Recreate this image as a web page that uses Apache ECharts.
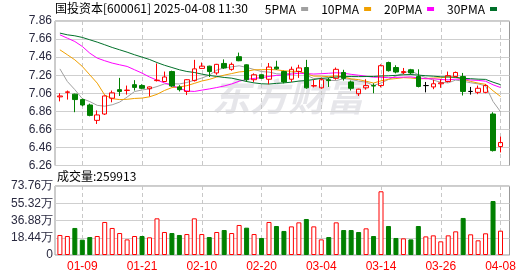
<!DOCTYPE html>
<html><head><meta charset="utf-8">
<script src="https://cdn.jsdelivr.net/npm/echarts@6/dist/echarts.min.js"></script>
<style>html,body{margin:0;padding:0;background:#fff}#c{width:530px;height:276px}</style>
</head><body><div id="c"></div>
<script>
const dates = ['01-06','01-07','01-08','01-09','01-10','01-13','01-14','01-15','01-16','01-17','01-20','01-21','01-22','01-23','01-24','01-27','02-05','02-06','02-07','02-10','02-11','02-12','02-13','02-14','02-17','02-18','02-19','02-20','02-21','02-24','02-25','02-26','02-27','02-28','03-03','03-04','03-05','03-06','03-07','03-10','03-11','03-12','03-13','03-14','03-17','03-18','03-19','03-20','03-21','03-24','03-25','03-26','03-27','03-28','03-31','04-01','04-02','04-03','04-07','04-08'];
const opens  = [7.02,7.07,7.05,6.99,6.93,6.76,6.83,7.005,7.10,7.09,7.155,7.145,7.11,7.20,7.19,7.30,7.13,7.08,7.20,7.335,7.36,7.285,7.39,7.325,7.465,7.375,7.21,7.265,7.215,7.35,7.30,7.215,7.30,7.345,7.14,7.12,7.21,7.225,7.29,7.185,7.055,7.12,7.145,7.145,7.40,7.345,7.29,7.32,7.245,7.145,7.13,7.165,7.19,7.245,7.245,7.08,7.07,7.07,6.83,6.47];
const closes = [7.03,7.075,6.99,6.93,6.815,6.82,7.03,7.065,7.08,7.095,7.125,7.115,7.13,7.205,7.24,7.14,7.10,7.21,7.33,7.36,7.30,7.38,7.34,7.38,7.42,7.21,7.265,7.225,7.35,7.33,7.185,7.325,7.34,7.12,7.145,7.21,7.20,7.325,7.225,7.115,7.105,7.145,7.14,7.365,7.31,7.295,7.30,7.285,7.135,7.145,7.165,7.175,7.255,7.29,7.08,7.08,7.115,7.145,6.425,6.515];
const lows   = [6.97,6.99,6.85,6.915,6.805,6.72,6.82,6.96,7.03,7.045,7.09,7.105,7.025,7.19,7.185,7.13,7.08,7.04,7.19,7.33,7.24,7.265,7.33,7.31,7.415,7.185,7.185,7.22,7.16,7.32,7.17,7.185,7.23,7.11,7.125,7.11,7.13,7.21,7.20,7.09,7.03,7.10,7.06,7.125,7.30,7.28,7.27,7.27,7.125,7.07,7.105,7.12,7.18,7.24,7.035,7.045,7.05,7.06,6.415,6.405];
const highs  = [7.06,7.09,7.055,7.00,6.945,6.87,7.035,7.09,7.23,7.145,7.205,7.16,7.135,7.39,7.30,7.31,7.15,7.215,7.43,7.40,7.365,7.385,7.435,7.40,7.51,7.38,7.28,7.27,7.395,7.42,7.31,7.355,7.375,7.43,7.21,7.23,7.23,7.345,7.32,7.20,7.11,7.215,7.17,7.38,7.41,7.37,7.34,7.33,7.325,7.185,7.21,7.215,7.30,7.30,7.285,7.13,7.145,7.16,6.85,6.58];
// volume in 万 (10,000 shares)
const volumes = [21.4,20.3,28.9,16.4,19.2,20.3,35.3,28.9,23.5,16.7,20.3,20.3,18.9,39.2,24.6,23.5,21.4,22.4,39.2,22.4,19.2,24.6,26.7,23.5,32.1,29.2,22.4,18.2,35.3,31.0,25.7,30.6,34.9,38.5,30.6,16.7,19.2,34.9,26.7,26.7,24.6,28.5,20.3,68.1,31.0,18.2,17.8,16.7,31.0,19.9,21.0,14.6,21.0,25.3,39.6,22.1,15.7,23.2,57.7,25.9913];
// moving-average values for days whose window starts before the shown range
const ma5Head  = [7.33,7.19,7.10,7.00];
const ma10Head = [7.541,7.486,7.43,7.357,7.264,7.172,7.04,7.00,6.99];
const ma20Head = [7.707,7.67,7.633,7.578,7.504,7.449,7.42,7.394,7.375,7.357,7.32,7.283,7.24,7.205,7.175,7.145,7.115,7.085,7.08];
const ma30Head = [7.726,7.707,7.696,7.678,7.652,7.626,7.597,7.567,7.541,7.515,7.486,7.46,7.434,7.40,7.37,7.345,7.32,7.301,7.29,7.272,7.257,7.246,7.235,7.227,7.209,7.19,7.175,7.165,7.162];
const priceTicks = ['6.26','6.46','6.66','6.86','7.06','7.26','7.46','7.66','7.86'];
const volTicks = ['0','18.44万','36.88万','55.32万','73.76万'];
const titleText = '国投资本[600061] 2025-04-08 11:30';
const maNames = ['5PMA','10PMA','20PMA','30PMA'];

function ma(n, head) {
  return closes.map((c, i) => {
    if (i < n - 1) return head[i];
    let s = 0; for (let k = i - n + 1; k <= i; k++) s += closes[k];
    return +(s / n).toFixed(4);
  });
}
const maData = [ma(5, ma5Head), ma(10, ma10Head), ma(20, ma20Head), ma(30, ma30Head)];
const maColors = ['#a0a0a0', '#f0a000', '#ff00ff', '#00702a'];

const RED = '#ff0000', GREEN = '#008000';
const kData = dates.map((d, i) => [opens[i], closes[i], lows[i], highs[i]]);
const volData = volumes.map((v, i) => {
  const ref = i > 0 ? closes[i - 1] : opens[i];
  const up = closes[i] >= ref;
  return { value: v, itemStyle: up ? { color: '#fff', borderColor: RED, borderWidth: 1 } : { color: GREEN, borderColor: GREEN, borderWidth: 1 } };
});

const FONT = 'Liberation Sans, Arial, sans-serif';
const labelEvery = (i) => i % 8 === 3;
const dataLeft = 59.9, dataWidth = 440.6;
const mainTop = 21, mainH = 144.5, volTop = 186, volH = 69;

const chart = echarts.init(document.getElementById('c'), null, { renderer: 'canvas' });
chart.setOption({
  animation: false,
  backgroundColor: '#fff',
  title: [
    { text: titleText, left: 55, top: 2, padding: 0, textStyle: { fontSize: 12, fontWeight: 'normal', color: '#000', fontFamily: 'Noto Sans CJK SC' } },
    { text: '成交量:' + Math.round(volumes[volumes.length - 1] * 10000), left: 57, top: 170, padding: 0, textStyle: { fontSize: 12, fontWeight: 'normal', color: '#000', fontFamily: 'Noto Sans CJK SC' } }
  ],
  legend: {
    data: maNames, right: 33, top: 3, padding: 0, align: 'right', icon: 'rect', itemWidth: 7, itemHeight: 4, itemGap: 13,
    textStyle: { fontSize: 12, color: '#000', fontFamily: 'Noto Sans CJK SC', padding: [0, 0, 0, 0] }
  },
  graphic: [{
    type: 'text', left: 212, top: 78, silent: true, z: 0,
    style: { text: '东方财富', fontSize: 38, fontWeight: 'bold', fontStyle: 'italic', fill: 'rgba(200,200,208,0.45)', fontFamily: 'Noto Sans CJK SC' }
  }],
  grid: [
    { left: 55, top: mainTop, width: 454.5, height: mainH, show: true, borderColor: '#999', borderWidth: 1, backgroundColor: 'transparent' },
    { left: dataLeft, top: mainTop, width: dataWidth, height: mainH },
    { left: 55, top: volTop, width: 454.5, height: volH, show: true, borderColor: '#999', borderWidth: 1, backgroundColor: 'transparent' },
    { left: dataLeft, top: volTop, width: dataWidth, height: volH }
  ],
  xAxis: [
    { gridIndex: 0, type: 'value', show: false, min: 0, max: 1 },
    { gridIndex: 1, type: 'category', data: dates, boundaryGap: false,
      axisLine: { show: false }, axisTick: { show: false }, axisLabel: { show: false },
      splitLine: { show: true, interval: labelEvery, lineStyle: { color: '#c8c8c8', type: [4, 3], width: 1 } } },
    { gridIndex: 2, type: 'value', show: false, min: 0, max: 1 },
    { gridIndex: 3, type: 'category', data: dates, boundaryGap: false,
      axisLine: { show: false }, axisTick: { show: false },
      axisLabel: { show: true, interval: labelEvery, color: RED, fontSize: 12, margin: 6, fontFamily: FONT },
      splitLine: { show: true, interval: labelEvery, lineStyle: { color: '#c8c8c8', type: [4, 3], width: 1 } } }
  ],
  yAxis: [
    { gridIndex: 0, type: 'category', data: priceTicks, boundaryGap: false,
      axisLine: { show: false }, axisTick: { show: false },
      axisLabel: { interval: 0, margin: 3, fontSize: 12, color: '#2a2a40', fontFamily: FONT },
      splitLine: { show: true, interval: 0, lineStyle: { color: '#cfcfcf', width: 1 } } },
    { gridIndex: 1, type: 'value', min: 6.26, max: 7.86, show: false, splitLine: { show: false } },
    { gridIndex: 2, type: 'category', data: volTicks, boundaryGap: false,
      axisLine: { show: false }, axisTick: { show: false },
      axisLabel: { interval: 0, margin: 2, fontSize: 12, color: '#2a2a40', fontFamily: FONT },
      splitLine: { show: true, interval: 0, lineStyle: { color: '#cfcfcf', width: 1 } } },
    { gridIndex: 3, type: 'value', min: 0, max: 73.76, show: false, splitLine: { show: false } }
  ],
  series: [
    ...maNames.map((n, k) => ({
      name: n, type: 'line', xAxisIndex: 1, yAxisIndex: 1, data: maData[k], symbol: 'none', smooth: false,
      color: maColors[k], lineStyle: { width: 1, color: maColors[k] }, z: 2, silent: true
    })),
    {
      type: 'candlestick', xAxisIndex: 1, yAxisIndex: 1, data: kData, barWidth: 5, clip: false, z: 3,
      itemStyle: { color: 'rgba(255,255,255,0)', color0: GREEN, borderColor: RED, borderColor0: GREEN, borderColorDoji: '#000', borderWidth: 1 }
    },
    {
      type: 'bar', xAxisIndex: 3, yAxisIndex: 3, data: volData, barWidth: 5, clip: false, z: 3
    }
  ]
});
</script></body></html>
